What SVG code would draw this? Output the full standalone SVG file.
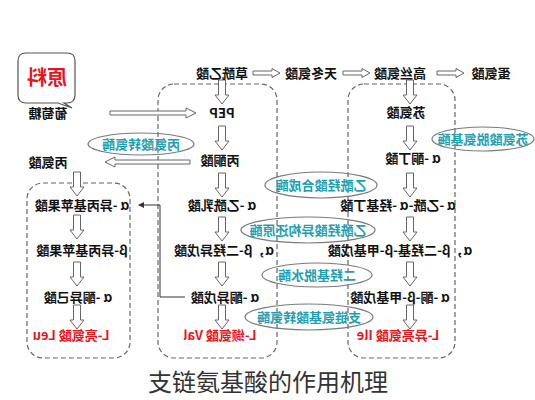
<svg xmlns="http://www.w3.org/2000/svg" xmlns:xlink="http://www.w3.org/1999/xlink" width="535" height="400" viewBox="0 0 535 400">
<style>
text{font-family:"Noto Sans CJK SC","Liberation Sans",sans-serif;text-anchor:middle}
.t{font-size:13px;fill:#111;font-weight:bold}
.r{font-size:13px;fill:#e8141c;font-weight:bold}
.e{font-size:13px;fill:#1f9fb2;font-weight:bold}
.ell{fill:none;stroke:#7a7a7a;stroke-width:1.2}
.box{fill:none;stroke:#666;stroke-width:1.2;stroke-dasharray:5,3}
.ar{fill:#fff;stroke:#666;stroke-width:1}
.cap{font-size:24px;fill:#333;font-family:"Noto Sans CJK SC",sans-serif}
</style>
<defs>
<path id="dA" d="M-3.5,0 H3.5 V15 H7 L0,24 L-7,15 H-3.5 Z"/>
<path id="rA" d="M0,-2 H19 V-4.5 L27,0 L19,4.5 V2 H0 Z"/>
<marker id="mk" markerWidth="6" markerHeight="6" refX="5" refY="3" orient="auto"><path d="M0,0 L6,3 L0,6 Z" fill="#333"/></marker>
</defs>

<g id="boxes">
<rect class="box" x="158" y="84" width="119" height="274" rx="16"/>
<rect class="box" x="348" y="84" width="107" height="274" rx="16"/>
<rect class="box" x="27" y="183" width="103" height="175" rx="16"/>
</g>

<g id="connectors">
<path class="ar" d="M110,111 H186 V108 L196,113 L186,118 V115 H110 Z"/>
<path class="ar" d="M190,160 H115 V157 L105,162 L115,167 V164 H190 Z"/>
<use class="ar" href="#rA" x="253" y="73"/>
<use class="ar" href="#rA" x="343" y="73"/>
<use class="ar" href="#rA" x="437" y="73"/>
<use class="ar" href="#dA" x="222" y="80"/>
<use class="ar" href="#dA" x="222" y="126"/>
<use class="ar" href="#dA" x="222" y="173"/>
<use class="ar" href="#dA" x="222" y="217"/>
<use class="ar" href="#dA" x="222" y="262"/>
<use class="ar" href="#dA" x="222" y="305"/>
<use class="ar" href="#dA" x="410" y="80"/>
<use class="ar" href="#dA" x="410" y="126"/>
<use class="ar" href="#dA" x="410" y="173"/>
<use class="ar" href="#dA" x="410" y="217"/>
<use class="ar" href="#dA" x="410" y="262"/>
<use class="ar" href="#dA" x="410" y="305"/>
<use class="ar" href="#dA" x="77" y="172"/>
<use class="ar" href="#dA" x="77" y="215"/>
<use class="ar" href="#dA" x="77" y="262"/>
<use class="ar" href="#dA" x="77" y="305"/>
<polyline points="185,297 160,297 160,205 139,205" fill="none" stroke="#333" stroke-width="1" marker-end="url(#mk)"/>
</g>

<g id="n-yuanliao">
<path d="M26,53 H67 Q75,53 75,61 V95 Q75,103 67,103 H64 L72,108 L58,103 H26 Q18,103 18,95 V61 Q18,53 26,53 Z" fill="#fff" stroke="#555" stroke-width="1.2"/>
<text transform="translate(47,85) scale(-1,1)" style="font-size:20px;fill:#e8141c;font-weight:bold">原料</text>
</g>
<g id="n-putaotang"><text class="t" transform="translate(48,118) scale(-1,1)">葡萄糖</text></g>
<g id="n-bingansuan"><text class="t" transform="translate(48,167) scale(-1,1)">丙氨酸</text></g>
<g id="n-caoxian"><text class="t" transform="translate(222,78) scale(-1,1)">草酰乙酸</text></g>
<g id="n-tiandong"><text class="t" transform="translate(311,78) scale(-1,1)">天冬氨酸</text></g>
<g id="n-gaosi"><text class="t" transform="translate(400,78) scale(-1,1)">高丝氨酸</text></g>
<g id="n-dan"><text class="t" transform="translate(491,78) scale(-1,1)">蛋氨酸</text></g>
<g id="n-pep"><text class="t" transform="translate(222,118) scale(-1,1)">PEP</text></g>
<g id="n-bingtong"><text class="t" transform="translate(220,165) scale(-1,1)">丙酮酸</text></g>
<g id="n-yixianru"><text class="t" transform="translate(222,210) scale(-1,1)">α -乙酰乳酸</text></g>
<g id="n-erqiangyiwu"><text class="t" transform="translate(224,255) scale(-1,1)">α，β-二羟异戊酸</text></g>
<g id="n-tongyiwu"><text class="t" transform="translate(225,302) scale(-1,1)">α -酮异戊酸</text></g>
<g id="n-val"><text class="r" transform="translate(220,340) scale(-1,1)">L-缬氨酸 Val</text></g>
<g id="n-su"><text class="t" transform="translate(406,117) scale(-1,1)">苏氨酸</text></g>
<g id="n-tongding"><text class="t" transform="translate(413,163) scale(-1,1)">α -酮丁酸</text></g>
<g id="n-yixianqiangji"><text class="t" transform="translate(398,210) scale(-1,1)">α -乙酰-α -羟基丁酸</text></g>
<g id="n-erqiangjijiaji"><text class="t" transform="translate(400,255) scale(-1,1)">α，β-二羟基-β-甲基戊酸</text></g>
<g id="n-tongjiaji"><text class="t" transform="translate(400,302) scale(-1,1)">α -酮-β-甲基戊酸</text></g>
<g id="n-ile"><text class="r" transform="translate(398,340) scale(-1,1)">L-异亮氨酸 Ile</text></g>
<g id="n-ayibingji"><text class="t" transform="translate(82,210) scale(-1,1)">α -异丙基苹果酸</text></g>
<g id="n-byibingji"><text class="t" transform="translate(82,255) scale(-1,1)">β-异丙基苹果酸</text></g>
<g id="n-tongyiji"><text class="t" transform="translate(78,302) scale(-1,1)">α -酮异己酸</text></g>
<g id="n-leu"><text class="r" transform="translate(71,340) scale(-1,1)">L-亮氨酸 Leu</text></g>

<g id="e-bingzhuan"><ellipse class="ell" cx="141" cy="144" rx="53" ry="11"/><text class="e" transform="translate(141,149) scale(-1,1)">丙氨酸转氨酶</text></g>
<g id="e-suanqu"><ellipse class="ell" cx="483" cy="139" rx="51" ry="12"/><text class="e" transform="translate(483,144) scale(-1,1)">苏氨酸脱氨基酶</text></g>
<g id="e-hecheng"><ellipse class="ell" cx="321" cy="185" rx="56" ry="13"/><text class="e" transform="translate(321,190) scale(-1,1)">乙酰羟酸合成酶</text></g>
<g id="e-yigou"><ellipse class="ell" cx="308" cy="230" rx="67" ry="13"/><text class="e" transform="translate(308,235) scale(-1,1)">乙酰羟酸异构还原酶</text></g>
<g id="e-tuoshui"><ellipse class="ell" cx="317" cy="275" rx="55" ry="12"/><text class="e" transform="translate(317,280) scale(-1,1)">二羟基脱水酶</text></g>
<g id="e-zhuan"><ellipse class="ell" cx="309" cy="317" rx="64" ry="13"/><text class="e" transform="translate(309,322) scale(-1,1)">支链氨基酸转氨酶</text></g>

<text class="cap" x="268" y="391">支链氨基酸的作用机理</text>
</svg>
